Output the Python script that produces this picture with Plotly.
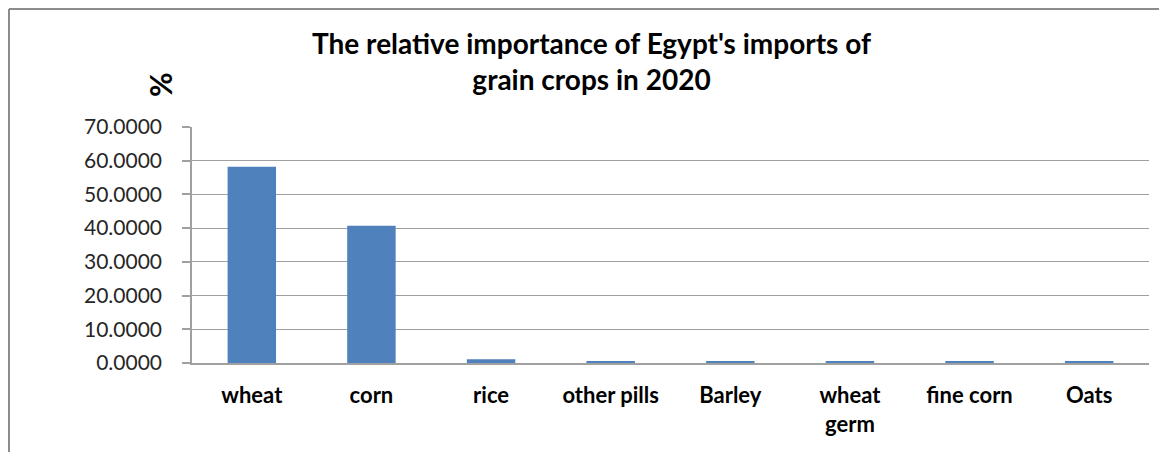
import plotly.graph_objects as go

categories = ["wheat", "corn", "rice", "other pills", "Barley", "wheat<br>germ", "fine corn", "Oats"]
shares = [58.2, 40.7, 1.1, 0.3, 0.3, 0.3, 0.3, 0.3]
y_ticks = [0, 10, 20, 30, 40, 50, 60, 70]
title_text = "The relative importance of Egypt's imports of<br>grain crops in 2020"
y_title = "%"

W, H = 1167, 452
ML, MR, MT, MB = 184, 26, 119, 97
FONT = "Lato"

fig = go.Figure()
fig.add_trace(go.Bar(x=categories, y=shares, marker=dict(color="#4f81bd", line=dict(width=0)),
                     hoverinfo="x+y"))

fig.update_layout(
    width=W, height=H,
    margin=dict(l=ML, r=MR, t=MT, b=MB),
    paper_bgcolor="white", plot_bgcolor="white",
    bargap=0.595,
    showlegend=False,
    font=dict(family=FONT, color="#000000"),
    xaxis=dict(showline=True, linecolor="#a0a0a0", linewidth=1.5, ticks="",
               tickfont=dict(family=FONT, size=22, color="#000000", weight="bold"),
               showgrid=False, ticklabelstandoff=12),
    yaxis=dict(range=[0, 70], tickvals=y_ticks, tickformat=".4f",
               showline=True, linecolor="#a0a0a0", linewidth=1.5,
               ticks="outside", ticklen=8, tickcolor="#a0a0a0", tickwidth=1.5,
               showgrid=True, gridcolor="#a0a0a0", gridwidth=1.2,
               tickfont=dict(family=FONT, size=21, color="#262626"),
               ticklabelstandoff=16, zeroline=False),
)

# chart title
fig.add_annotation(text="<b>" + title_text + "</b>", xref="paper", yref="paper",
                   x=0, xshift=399, y=1, yshift=66, xanchor="center", yanchor="middle",
                   showarrow=False, align="center",
                   font=dict(family=FONT, size=28, color="#000000"))

# y-axis unit
fig.add_annotation(text="<b>" + y_title + "</b>", textangle=-90, xref="paper", yref="paper",
                   x=0, xshift=-32, y=1, yshift=42, xanchor="center", yanchor="middle",
                   showarrow=False,
                   font=dict(family=FONT, size=30, color="#000000"))

# chart border (left and top)
fig.add_shape(type="line", xref="paper", yref="paper", xsizemode="pixel", ysizemode="pixel",
              xanchor=0, yanchor=1, x0=-ML + 1, x1=-ML + 1, y0=MT - 1, y1=-(H - MT),
              line=dict(color="#8c8c8c", width=2))
fig.add_shape(type="line", xref="paper", yref="paper", xsizemode="pixel", ysizemode="pixel",
              xanchor=0, yanchor=1, x0=-ML + 1, x1=W, y0=MT - 1, y1=MT - 1,
              line=dict(color="#8c8c8c", width=2))

fig.write_html("out.html")
